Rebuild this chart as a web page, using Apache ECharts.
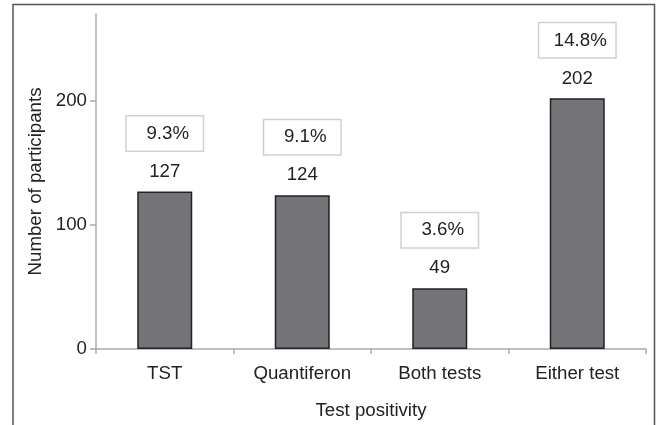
<!DOCTYPE html>
<html>
<head>
<meta charset="utf-8">
<script src="https://cdn.jsdelivr.net/npm/echarts@6/dist/echarts.min.js"></script>
<style>
  html, body { margin: 0; padding: 0; background: #fff; }
  #chart { width: 659px; height: 425px; }
</style>
</head>
<body>
<div id="chart"></div>
<script>
// 数据
var categories = ['TST', 'Quantiferon', 'Both tests', 'Either test'];
var counts = [127, 124, 49, 202];
var percents = ['9.3%', '9.1%', '3.6%', '14.8%'];
var yTicks = [0, 100, 200];

var font = '"Liberation Sans", Arial, sans-serif';
var textColor = '#222';
var fs = 18.7;

var myChart = echarts.init(document.getElementById('chart'));
var option = {
  backgroundColor: '#fff',
  animation: false,
  textStyle: { fontFamily: font },
  graphic: [{
    type: 'polyline',
    shape: { points: [[13, 426], [13, 4.5], [654.5, 4.5], [654.5, 426]] },
    style: { stroke: '#555', lineWidth: 1.5, fill: null }
  }],
  grid: { left: 96, right: 13, top: 14, bottom: 76, outerBoundsMode: 'none', containLabel: false },
  xAxis: {
    type: 'category',
    data: categories,
    name: 'Test positivity',
    nameLocation: 'middle',
    nameGap: 52,
    nameTextStyle: { color: textColor, fontSize: fs, fontFamily: font },
    axisLine: { lineStyle: { color: '#aaa', width: 1.5 } },
    axisTick: { show: true, length: 5, lineStyle: { color: '#aaa', width: 1.5 } },
    axisLabel: { color: textColor, fontSize: fs, margin: 15, fontFamily: font }
  },
  yAxis: {
    type: 'value',
    min: 0,
    max: 270,
    interval: 100,
    name: 'Number of participants',
    nameLocation: 'middle',
    nameGap: 51,
    nameTextStyle: { color: textColor, fontSize: fs, fontFamily: font },
    splitLine: { show: false },
    axisLine: { show: true, lineStyle: { color: '#aaa', width: 1.5 } },
    axisTick: { show: true, length: 6, customValues: yTicks, lineStyle: { color: '#aaa', width: 1.5 } },
    axisLabel: { color: textColor, fontSize: fs, margin: 9, customValues: yTicks, fontFamily: font }
  },
  series: [{
    type: 'bar',
    data: counts,
    barWidth: '40%',
    itemStyle: { color: '#747478', borderColor: '#222', borderWidth: 1.5 },
    label: {
      show: true,
      position: 'top',
      distance: 10,
      color: textColor,
      fontSize: fs,
      fontFamily: font,
      lineHeight: 20
    }
  }, {
    // 百分比框, 透明柱子只用来放标签
    type: 'bar',
    data: counts,
    barWidth: '40%',
    barGap: '-100%',
    silent: true,
    itemStyle: { color: 'rgba(0,0,0,0)' },
    label: {
      show: true,
      position: 'top',
      distance: 41,
      formatter: function (p) {
        return percents[p.dataIndex];
      },
      color: textColor,
      fontSize: fs,
      fontFamily: font,
      lineHeight: 18,
      width: 50,
      align: 'center',
      padding: [8, 10, 8, 16],
      borderColor: '#d0d0d0',
      borderWidth: 1.5,
      backgroundColor: '#fff'
    }
  }]
};
myChart.setOption(option, true);
</script>
</body>
</html>
